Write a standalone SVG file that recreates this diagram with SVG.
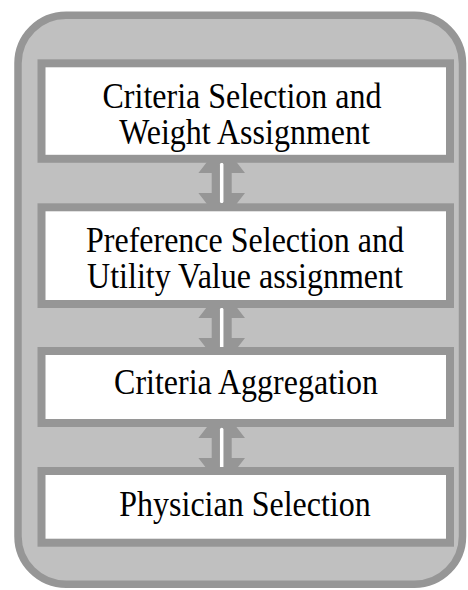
<svg xmlns="http://www.w3.org/2000/svg" width="468" height="590" viewBox="0 0 468 590">
  <style>
    .frame { fill: #c0c0c0; stroke: #969696; stroke-width: 7.5; }
    .box-bg { fill: #ffffff; stroke: none; }
    .box-edge { fill: none; stroke: #969696; stroke-width: 8; }
    .label { font-family: "Liberation Serif", "Times New Roman", serif; font-size: 32px; fill: #000000; text-anchor: middle; }
    .arrow-body { fill: #969696; }
    .arrow-core { stroke: #ffffff; stroke-width: 3.5; stroke-linecap: round; }
  </style>
  <defs>
    <!-- double-headed block arrow, centred on the origin -->
    <g id="dbl-arrow">
      <polygon class="arrow-body" points="-12.4,-24 12.4,-24 23.3,-10 10,-10 10,10 23.3,10 12.4,24 -12.4,24 -23.3,10 -10,10 -10,-10 -23.3,-10"/>
      <line class="arrow-core" x1="0" y1="-18.5" x2="0" y2="18.5"/>
    </g>
  </defs>

  <!-- outer rounded panel -->
  <rect id="panel" class="frame" x="18" y="15.3" width="444.5" height="568.9" rx="48" ry="48"/>

  <!-- connectors between the stages -->
  <g id="connectors">
    <use href="#dbl-arrow" x="221.7" y="183"/>
    <use href="#dbl-arrow" x="221.7" y="328"/>
    <use href="#dbl-arrow" x="221.7" y="448"/>
  </g>

  <!-- stages: white fill, label, then the border on top so long descenders tuck under it -->
  <g id="criteria-selection">
    <rect class="box-bg" x="41.5" y="63.3" width="408.5" height="95.5"/>
    <text class="label" transform="translate(242 108) scale(1 1.12)">Criteria Selection and</text>
    <text class="label" transform="translate(244.5 143.5) scale(1 1.12)">Weight Assignment</text>
    <rect class="box-edge" x="41.5" y="63.3" width="408.5" height="95.5"/>
  </g>

  <g id="preference-selection">
    <rect class="box-bg" x="41.5" y="207.3" width="408.5" height="96.7"/>
    <text class="label" transform="translate(245 252) scale(1 1.12)">Preference Selection and</text>
    <text class="label" transform="translate(245 287.5) scale(1 1.12)">Utility Value assignment</text>
    <rect class="box-edge" x="41.5" y="207.3" width="408.5" height="96.7"/>
  </g>

  <g id="criteria-aggregation">
    <rect class="box-bg" x="41.5" y="351" width="408.5" height="72"/>
    <text class="label" transform="translate(246 394) scale(1 1.12)">Criteria Aggregation</text>
    <rect class="box-edge" x="41.5" y="351" width="408.5" height="72"/>
  </g>

  <g id="physician-selection">
    <rect class="box-bg" x="41.5" y="471" width="408.5" height="71.7"/>
    <text class="label" transform="translate(245 515.5) scale(1 1.12)">Physician Selection</text>
    <rect class="box-edge" x="41.5" y="471" width="408.5" height="71.7"/>
  </g>
</svg>
